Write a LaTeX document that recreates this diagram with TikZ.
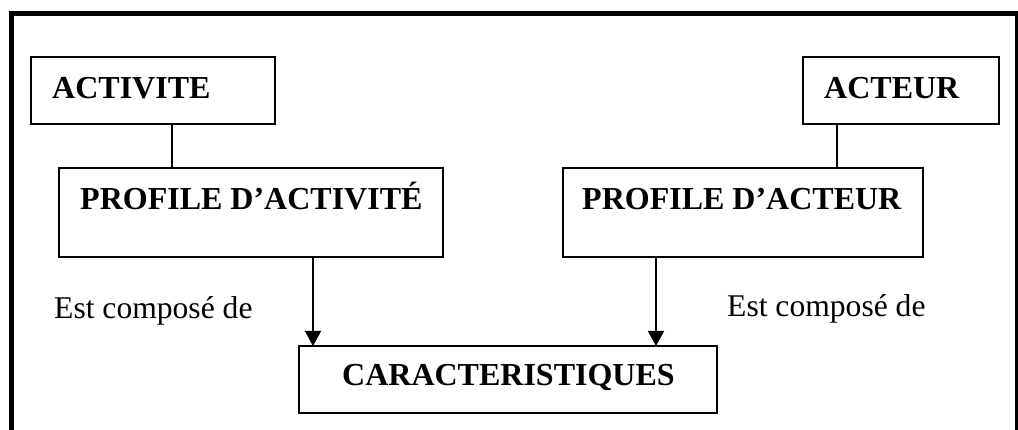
\documentclass[tikz,border=0pt]{standalone}
\usepackage{fontspec}
\setmainfont{Liberation Serif}
\usetikzlibrary{arrows.meta}
\begin{document}
\begin{tikzpicture}[x=1pt,y=-1pt,
  box/.style={draw,line width=1.3pt,rectangle,inner sep=0pt,outer sep=0pt},
  lbl/.style={anchor=base west,inner sep=0pt,font=\fontsize{32}{38}\selectfont\bfseries},
  txt/.style={anchor=base west,inner sep=0pt,font=\fontsize{31.6}{38}\selectfont},
  link/.style={line width=1.3pt},
  arr/.style={line width=1.3pt,-{Triangle[width=16pt,length=15pt]}}]
\useasboundingbox (0,0) rectangle (1018,430);
% frame
\draw[line width=5pt] (11.5,11) -- (11.5,430);
\draw[line width=5pt] (9,13.5) -- (1018,13.5);
\draw[line width=2.7pt] (1016.3,13.5) -- (1016.3,430);
% boxes
\node[box,minimum width=244pt,minimum height=67pt] (act) at (153,90.5) {};
\node[box,minimum width=196pt,minimum height=67pt] (acr) at (901,90.5) {};
\node[box,minimum width=384pt,minimum height=89pt] (pa) at (251,212.5) {};
\node[box,minimum width=360pt,minimum height=89pt] (pr) at (743,212.5) {};
\node[box,minimum width=418pt,minimum height=67pt] (car) at (508,379.5) {};
% texts
\node[lbl] (tact) at (52,99) {ACTIVITE};
\node[lbl] (tacr) at (824,99) {ACTEUR};
\node[lbl] (tpa) at (80,210) {PROFILE D’ACTIVITÉ};
\node[lbl] (tpr) at (582,210) {PROFILE D’ACTEUR};
\node[lbl] (tcar) at (342,385) {CARACTERISTIQUES};
\node[txt] (e1) at (54,319) {Est composé de};
\node[txt] (e2) at (727,317) {Est composé de};
% connectors
\coordinate (c1) at (172,0);
\coordinate (c2) at (837,0);
\coordinate (c3) at (313,0);
\coordinate (c4) at (656,0);
\draw[link] (act.south -| c1) -- (pa.north -| c1);
\draw[link] (acr.south -| c2) -- (pr.north -| c2);
\draw[arr] (pa.south -| c3) -- (car.north -| c3);
\draw[arr] (pr.south -| c4) -- (car.north -| c4);
\end{tikzpicture}
\end{document}
